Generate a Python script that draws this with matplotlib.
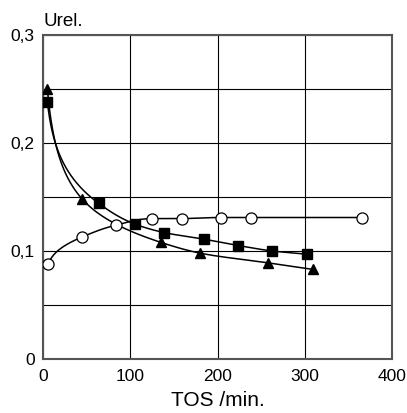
import matplotlib
matplotlib.use("Agg")
import matplotlib.pyplot as plt
import numpy as np

plt.rcParams['font.family'] = ['Liberation Sans', 'DejaVu Sans']

# data
tri_x = [5, 45, 135, 180, 258, 309]
tri_y = [0.250, 0.148, 0.108, 0.098, 0.089, 0.083]
sq_x = [5, 64, 105, 139, 184, 224, 263, 303]
sq_y = [0.238, 0.144, 0.125, 0.117, 0.111, 0.105, 0.100, 0.097]
circ_x = [6, 45, 84, 125, 159, 204, 238, 366]
circ_y = [0.088, 0.113, 0.124, 0.130, 0.130, 0.131, 0.131, 0.131]

xticks = [0, 100, 200, 300, 400]
yticks = [0, 0.1, 0.2, 0.3]
ytick_labels = ["0", "0,1", "0,2", "0,3"]


def smooth(x, y, n=300):
    # monotone cubic through the points, done in log(x) so the drop near 0 curves
    u = np.log(np.asarray(x, float))
    y = np.asarray(y, float)
    h = np.diff(u)
    d = np.diff(y) / h
    m = np.zeros_like(y)
    for k in range(1, len(u) - 1):
        if d[k - 1] * d[k] > 0:
            w1 = 2 * h[k] + h[k - 1]
            w2 = h[k] + 2 * h[k - 1]
            m[k] = (w1 + w2) / (w1 / d[k - 1] + w2 / d[k])
    m[0] = d[0]
    m[-1] = d[-1]
    us = np.linspace(u[0], u[-1], n)
    idx = np.clip(np.searchsorted(u, us) - 1, 0, len(u) - 2)
    t = (us - u[idx]) / h[idx]
    h00 = 2 * t**3 - 3 * t**2 + 1
    h10 = t**3 - 2 * t**2 + t
    h01 = -2 * t**3 + 3 * t**2
    h11 = t**3 - t**2
    ys = h00 * y[idx] + h10 * h[idx] * m[idx] + h01 * y[idx + 1] + h11 * h[idx] * m[idx + 1]
    return np.exp(us), ys


fig = plt.figure(figsize=(4.07, 4.13), dpi=100)
ax = fig.add_axes([0.1057, 0.1308, 0.8575, 0.7845])

for x, y in [(tri_x, tri_y), (sq_x, sq_y), (circ_x, circ_y)]:
    xs, ys = smooth(x, y)
    ax.plot(xs, ys, color='black', linewidth=1.1, zorder=2)

ax.plot(tri_x, tri_y, linestyle='none', marker='^', color='black', markersize=7, zorder=3)
ax.plot(sq_x, sq_y, linestyle='none', marker='s', color='black', markersize=7, zorder=3)
ax.plot(circ_x, circ_y, linestyle='none', marker='o', markerfacecolor='white',
        markeredgecolor='black', markersize=8, markeredgewidth=0.9, zorder=3)

ax.set_xlim(0, 400)
ax.set_ylim(0, 0.3)
ax.set_xticks(xticks)
ax.set_yticks(yticks)
ax.set_yticklabels(ytick_labels)
ax.set_yticks([0.05, 0.15, 0.25], minor=True)
ax.tick_params(which='both', length=0, labelsize=12.5)
ax.tick_params(axis='x', pad=7)
ax.tick_params(axis='y', pad=6)
ax.grid(True, which='both', color='black', linewidth=0.8)
ax.set_axisbelow(True)
for s in ax.spines.values():
    s.set_color('#555555')
    s.set_linewidth(1.5)

ax.set_xlabel("TOS /min.", fontsize=15, labelpad=5)
fig.text(0.106, 0.937, "Urel.", fontsize=13.5, ha='left', va='baseline')

plt.savefig("out.png", dpi=100)
